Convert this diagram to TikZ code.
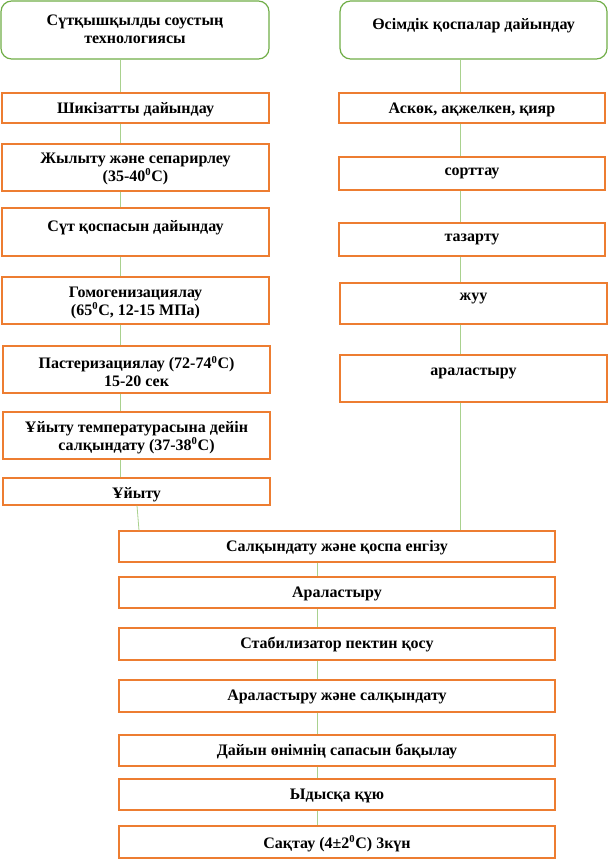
\documentclass[tikz,border=0pt]{standalone}
\usepackage{fontspec}
\setmainfont{Liberation Serif}
\usetikzlibrary{fit}
\definecolor{oline}{HTML}{ED7D31}
\definecolor{gline}{HTML}{70AD47}
\definecolor{cline}{HTML}{A9D18E}
\tikzset{
  obox/.style={draw=oline, line width=0.9pt, inner sep=0pt, rectangle},
  gbox/.style={draw=gline, line width=0.9pt, inner sep=0pt, rounded corners=8pt},
  lbl/.style={font=\bfseries\fontsize{12}{13.5}\selectfont, align=center, inner sep=0pt},
  conn/.style={draw=cline, line width=0.6pt}
}
\newcommand\mybox[8]{%
  \node[#8, fit={(#2,#3)(#4,#5)}] (#1) {};
  \node[lbl] (#1t) at ({(#2+#4)/2},{#6+1.5}) {#7};
}
\begin{document}
\begin{tikzpicture}[x=0.75pt,y=-0.75pt]
\useasboundingbox (0,0) rectangle (609,860);
% column x coordinates
\coordinate (Lx) at (120,0);
\coordinate (Rx) at (460,0);
\coordinate (Bx) at (317,0);
% left column
\mybox{L0}{1}{1}{269}{59}{28}{Сүтқышқылды соустың\\технологиясы}{gbox}
\mybox{L1}{2}{93}{269}{123}{108}{Шикізатты дайындау}{obox}
\mybox{L2}{2}{144}{269}{191}{167}{Жылыту және сепарирлеу\\(35-40\textsuperscript{0}С)}{obox}
\mybox{L3}{2}{208}{269}{256}{226}{Сүт қоспасын дайындау}{obox}
\mybox{L4}{2}{277}{269}{324}{301}{Гомогенизациялау\\(65\textsuperscript{0}С, 12-15 МПа)}{obox}
\mybox{L5}{3}{346}{270}{393}{370}{Пастеризациялау (72-74\textsuperscript{0}С)\\15-20 сек}{obox}
\mybox{L6}{3}{412}{270}{459}{436}{Ұйыту температурасына дейін\\салқындату (37-38\textsuperscript{0}С)}{obox}
\mybox{L7}{3}{478}{270}{505}{493}{Ұйыту}{obox}
% right column
\mybox{R0}{340}{1}{607}{59}{24}{Өсімдік қоспалар дайындау}{gbox}
\mybox{R1}{339}{93}{605}{123}{108}{Аскөк, ақжелкен, қияр}{obox}
\mybox{R2}{339}{157}{605}{190}{172}{сорттау}{obox}
\mybox{R3}{339}{223}{605}{256}{238}{тазарту}{obox}
\mybox{R4}{340}{283}{607}{324}{297}{жуу}{obox}
\mybox{R5}{340}{355}{607}{402}{372}{араластыру}{obox}
% bottom column
\mybox{B1}{119}{531}{555}{562}{546}{Салқындату және қоспа енгізу}{obox}
\mybox{B2}{119}{577}{555}{608}{592}{Араластыру}{obox}
\mybox{B3}{119}{628}{555}{660}{643}{Стабилизатор пектин қосу}{obox}
\mybox{B4}{119}{680}{555}{712}{695}{Араластыру және салқындату}{obox}
\mybox{B5}{119}{735}{555}{766}{750}{Дайын өнімнің сапасын бақылау}{obox}
\mybox{B6}{119}{779}{555}{810}{794}{Ыдысқа құю}{obox}
\mybox{B7}{119}{826}{555}{858}{842}{Сақтау (4±2\textsuperscript{0}С) 3күн}{obox}
% connectors
\foreach \a/\b in {L0/L1,L1/L2,L2/L3,L3/L4,L4/L5,L5/L6,L6/L7}
  \draw[conn] (\a.south -| Lx) -- (\b.north -| Lx);
\foreach \a/\b in {R0/R1,R1/R2,R2/R3,R3/R4,R4/R5,R5/B1}
  \draw[conn] (\a.south -| Rx) -- (\b.north -| Rx);
\foreach \a/\b in {B1/B2,B2/B3,B3/B4,B4/B5,B5/B6,B6/B7}
  \draw[conn] (\a.south -| Bx) -- (\b.north -| Bx);
\coordinate (u1) at (137,0);
\coordinate (u2) at (139,0);
\draw[conn] (L7.south -| u1) -- (B1.north -| u2);
\end{tikzpicture}
\end{document}
